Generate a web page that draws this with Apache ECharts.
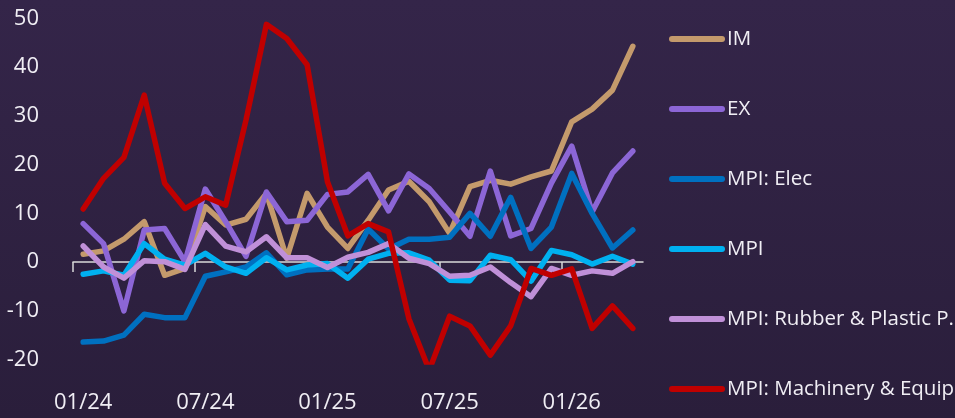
<!DOCTYPE html>
<html>
<head>
<meta charset="utf-8">
<title>IM / EX / MPI</title>
<script src="https://cdn.jsdelivr.net/npm/echarts@6/dist/echarts.min.js"></script>
<style>
  html, body { margin: 0; padding: 0; }
  #chart { width: 955px; height: 418px; }
</style>
</head>
<body>
<div id="chart"></div>
<script>
// Monthly periods, 01/24 .. 04/26
const months = [
  '01/24','02/24','03/24','04/24','05/24','06/24','07/24','08/24','09/24','10/24','11/24','12/24',
  '01/25','02/25','03/25','04/25','05/25','06/25','07/25','08/25','09/25','10/25','11/25','12/25',
  '01/26','02/26','03/26','04/26'
];

const im = [1.6, 2.3, 4.7, 8.3, -2.7, -1.3, 11.4, 7.6, 8.8, 14.1, 0.8, 14.1,
            7.2, 2.8, 8.6, 14.8, 16.6, 12.4, 5.9, 15.5, 16.8, 16.0, 17.5, 18.7,
            28.8, 31.4, 35.3, 44.3];
const ex = [7.9, 3.8, -10.0, 6.6, 6.9, 0.1, 15.0, 8.3, 1.2, 14.4, 8.3, 8.6,
            13.9, 14.4, 18.0, 10.5, 18.1, 15.1, 10.3, 5.3, 18.7, 5.4, 6.9, 16.2,
            23.8, 10.3, 18.3, 22.8];
const mpiElec = [-16.4, -16.2, -15.0, -10.7, -11.4, -11.4, -2.9, -2.0, -1.0, 1.9, -2.6, -1.6,
                 -1.4, -1.4, 6.8, 2.7, 4.7, 4.7, 5.1, 10.0, 5.3, 13.3, 2.8, 7.2,
                 18.2, 10.0, 2.9, 6.6];
const mpi = [-2.5, -1.8, -2.7, 3.8, 0.6, -0.6, 1.8, -1.0, -2.3, 0.9, -1.6, -0.6,
             -0.3, -3.3, 0.6, 1.8, 1.9, 0.4, -3.7, -3.8, 1.4, 0.5, -3.9, 2.4,
             1.5, -0.4, 1.2, -0.4];
const mpiRubber = [3.3, -1.0, -3.3, 0.3, 0.1, -1.5, 7.7, 3.3, 2.1, 5.2, 0.9, 0.9,
                   -1.1, 1.0, 2.0, 3.8, 0.8, -0.3, -2.9, -2.7, -1.0, -4.2, -7.1, -1.3,
                   -2.7, -1.8, -2.3, 0.1];
const mpiMachinery = [10.9, 17.2, 21.5, 34.3, 16.2, 11.0, 13.4, 11.7, 29.2, 48.8, 45.9, 40.5,
                      16.5, 5.4, 7.9, 6.2, -11.6, -22.2, -11.1, -13.1, -19.1, -13.1, -1.3, -2.7,
                      -1.4, -13.6, -9.0, -13.6];

// month boundaries for the zero-line ticks (one more edge than months)
const monthEdges = months.concat(['']);

const seriesDefs = [
  { name: 'IM', data: im, color: '#c49a6c' },
  { name: 'EX', data: ex, color: '#8c66d6' },
  { name: 'MPI: Elec', data: mpiElec, color: '#0070c0' },
  { name: 'MPI', data: mpi, color: '#00b0f0' },
  { name: 'MPI: Rubber & Plastic P.', data: mpiRubber, color: '#c090d8' },
  { name: 'MPI: Machinery & Equip', data: mpiMachinery, color: '#c00000' }
];

const FONT = '"Open Sans", "Noto Sans", sans-serif';
const TEXT = '#f0eef4';

const chart = echarts.init(document.getElementById('chart'), null, { renderer: 'canvas' });

chart.setOption({
  backgroundColor: {
    type: 'linear', x: 0, y: 0, x2: 0, y2: 1,
    colorStops: [
      { offset: 0, color: '#342549' },
      { offset: 1, color: '#2a1e3b' }
    ]
  },
  animation: false,
  textStyle: { fontFamily: FONT },
  grid: { left: 73, right: 312, top: 18.5, bottom: 56, containLabel: false },
  legend: {
    orient: 'vertical',
    left: 664,
    top: 19,
    itemWidth: 50,
    itemHeight: 6,
    itemGap: 40,
    lineStyle: { width: 6, cap: 'round' },
    textStyle: { color: TEXT, fontSize: 20.5, lineHeight: 26, fontFamily: FONT, padding: [0, 0, 4, 0] },
    data: seriesDefs.map(s => s.name)
  },
  xAxis: [
    {
      // zero line, ticks on month boundaries every six months
      type: 'category',
      data: monthEdges,
      boundaryGap: false,
      position: 'bottom',
      axisLine: { onZero: true, lineStyle: { color: '#d9d9d9', width: 1.5 } },
      axisTick: { show: true, interval: 5, length: 10, lineStyle: { color: '#d9d9d9', width: 1.5 } },
      axisLabel: { show: false },
      splitLine: { show: false }
    },
    {
      // period labels along the bottom
      type: 'category',
      data: months,
      boundaryGap: true,
      position: 'bottom',
      axisLine: { show: false, onZero: false },
      axisTick: { show: false },
      axisLabel: { interval: 5, color: TEXT, fontSize: 22, margin: 30, fontFamily: FONT },
      splitLine: { show: false }
    }
  ],
  yAxis: {
    type: 'value',
    min: -20.5,
    max: 50,
    splitNumber: 7,
    axisLine: { show: false },
    axisTick: { show: false },
    splitLine: { show: false },
    axisLabel: {
      color: TEXT,
      fontSize: 22,
      margin: 34,
      fontFamily: FONT,
      formatter: v => (Math.abs(v % 10) < 1e-9 ? String(v) : '')
    }
  },
  series: seriesDefs.map(s => ({
    name: s.name,
    type: 'line',
    xAxisIndex: 1,
    data: s.data,
    symbol: 'none',
    color: s.color,
    lineStyle: { width: 5.5, color: s.color, cap: 'round', join: 'round' },
    clip: true
  }))
});
</script>
</body>
</html>
